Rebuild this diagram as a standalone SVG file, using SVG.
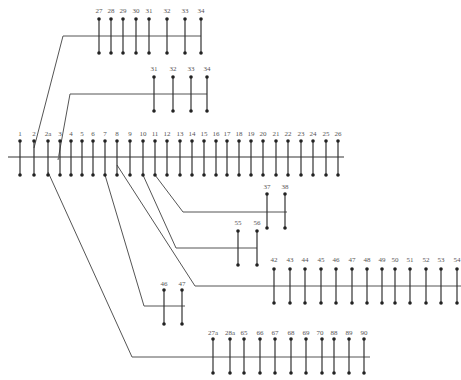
<svg xmlns="http://www.w3.org/2000/svg" xmlns:xlink="http://www.w3.org/1999/xlink" width="461" height="380" viewBox="0 0 461 380">
<style>
.pin line{stroke:#333;stroke-width:1.2}
.pin circle{fill:#222}
.bus{stroke:#777;stroke-width:1.4;fill:none}
.wire{stroke:#555;stroke-width:1;fill:none}
text{font-family:"Liberation Serif","DejaVu Serif",serif;font-size:7px;fill:#555;text-anchor:middle}
</style>
<defs>
<g id="pin" class="pin"><line x1="0" y1="0" x2="0" y2="34"/><circle cx="0" cy="0" r="1.8"/><circle cx="0" cy="34" r="1.8"/></g>
</defs>
<rect width="461" height="380" fill="#fff"/>
<g id="connectors">
<polyline class="wire" points="34,148 63,36 201,36"/>
<polyline class="wire" points="58,160 70,94 207,94"/>
<polyline class="wire" points="48,172 132,357 370,357"/>
<polyline class="wire" points="105,175 144,306 185,306"/>
<polyline class="wire" points="117,165 195,286 461,286"/>
<polyline class="wire" points="143,175 176,248 257,248"/>
<polyline class="wire" points="155,175 183,212 287,212"/>
</g>
<g id="strip-main">
<line class="bus" x1="8" y1="157" x2="344" y2="157"/>
<use href="#pin" x="20" y="141"/><use href="#pin" x="34" y="141"/><use href="#pin" x="48" y="141"/><use href="#pin" x="60" y="141"/><use href="#pin" x="71" y="141"/><use href="#pin" x="82" y="141"/><use href="#pin" x="93" y="141"/><use href="#pin" x="105" y="141"/><use href="#pin" x="117" y="141"/><use href="#pin" x="130" y="141"/><use href="#pin" x="143" y="141"/><use href="#pin" x="155" y="141"/><use href="#pin" x="167" y="141"/><use href="#pin" x="180" y="141"/><use href="#pin" x="192" y="141"/><use href="#pin" x="204" y="141"/><use href="#pin" x="216" y="141"/><use href="#pin" x="227" y="141"/><use href="#pin" x="239" y="141"/><use href="#pin" x="251" y="141"/><use href="#pin" x="263" y="141"/><use href="#pin" x="276" y="141"/><use href="#pin" x="288" y="141"/><use href="#pin" x="301" y="141"/><use href="#pin" x="313" y="141"/><use href="#pin" x="326" y="141"/><use href="#pin" x="338" y="141"/>
<text x="20" y="136">1</text><text x="34" y="136">2</text><text x="48" y="136">2a</text><text x="60" y="136">3</text><text x="71" y="136">4</text><text x="82" y="136">5</text><text x="93" y="136">6</text><text x="105" y="136">7</text><text x="117" y="136">8</text><text x="130" y="136">9</text><text x="143" y="136">10</text><text x="155" y="136">11</text><text x="167" y="136">12</text><text x="180" y="136">13</text><text x="192" y="136">14</text><text x="204" y="136">15</text><text x="216" y="136">16</text><text x="227" y="136">17</text><text x="239" y="136">18</text><text x="251" y="136">19</text><text x="263" y="136">20</text><text x="276" y="136">21</text><text x="288" y="136">22</text><text x="301" y="136">23</text><text x="313" y="136">24</text><text x="326" y="136">25</text><text x="338" y="136">26</text>
</g>
<g id="strip-27-34">
<use href="#pin" x="99" y="19"/><use href="#pin" x="111" y="19"/><use href="#pin" x="123" y="19"/><use href="#pin" x="136" y="19"/><use href="#pin" x="149" y="19"/><use href="#pin" x="167" y="19"/><use href="#pin" x="185" y="19"/><use href="#pin" x="201" y="19"/>
<text x="99" y="13">27</text><text x="111" y="13">28</text><text x="123" y="13">29</text><text x="136" y="13">30</text><text x="149" y="13">31</text><text x="167" y="13">32</text><text x="185" y="13">33</text><text x="201" y="13">34</text>
</g>
<g id="strip-31-34">
<use href="#pin" x="154" y="77"/><use href="#pin" x="173" y="77"/><use href="#pin" x="191" y="77"/><use href="#pin" x="207" y="77"/>
<text x="154" y="71">31</text><text x="173" y="71">32</text><text x="191" y="71">33</text><text x="207" y="71">34</text>
</g>
<g id="strip-37-38">
<use href="#pin" x="267" y="194"/><use href="#pin" x="285" y="194"/>
<text x="267" y="189">37</text><text x="285" y="189">38</text>
</g>
<g id="strip-55-56">
<use href="#pin" x="238" y="231"/><use href="#pin" x="257" y="231"/>
<text x="238" y="225">55</text><text x="257" y="225">56</text>
</g>
<g id="strip-42-54">
<use href="#pin" x="274" y="269"/><use href="#pin" x="290" y="269"/><use href="#pin" x="305" y="269"/><use href="#pin" x="321" y="269"/><use href="#pin" x="336" y="269"/><use href="#pin" x="352" y="269"/><use href="#pin" x="367" y="269"/><use href="#pin" x="382" y="269"/><use href="#pin" x="395" y="269"/><use href="#pin" x="410" y="269"/><use href="#pin" x="426" y="269"/><use href="#pin" x="441" y="269"/><use href="#pin" x="457" y="269"/>
<text x="274" y="262">42</text><text x="290" y="262">43</text><text x="305" y="262">44</text><text x="321" y="262">45</text><text x="336" y="262">46</text><text x="352" y="262">47</text><text x="367" y="262">48</text><text x="382" y="262">49</text><text x="395" y="262">50</text><text x="410" y="262">51</text><text x="426" y="262">52</text><text x="441" y="262">53</text><text x="457" y="262">54</text>
</g>
<g id="strip-46-47">
<use href="#pin" x="164" y="290"/><use href="#pin" x="182" y="290"/>
<text x="164" y="286">46</text><text x="182" y="286">47</text>
</g>
<g id="strip-27a-90">
<use href="#pin" x="213" y="339"/><use href="#pin" x="230" y="339"/><use href="#pin" x="244" y="339"/><use href="#pin" x="260" y="339"/><use href="#pin" x="275" y="339"/><use href="#pin" x="291" y="339"/><use href="#pin" x="306" y="339"/><use href="#pin" x="322" y="339"/><use href="#pin" x="334" y="339"/><use href="#pin" x="349" y="339"/><use href="#pin" x="364" y="339"/>
<text x="213" y="335">27a</text><text x="230" y="335">28a</text><text x="244" y="335">65</text><text x="260" y="335">66</text><text x="275" y="335">67</text><text x="291" y="335">68</text><text x="306" y="335">69</text><text x="320" y="335">70</text><text x="334" y="335">88</text><text x="349" y="335">89</text><text x="364" y="335">90</text>
</g>
</svg>
